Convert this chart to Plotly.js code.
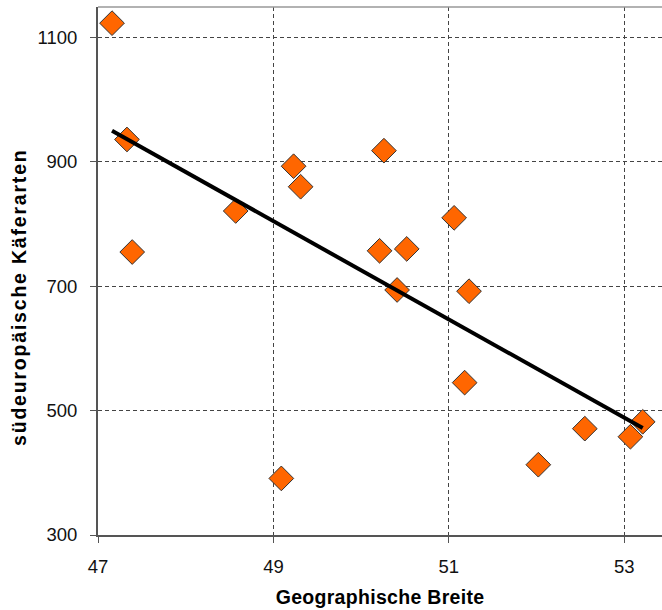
<!DOCTYPE html>
<html>
<head>
<meta charset="utf-8">
<script src="https://cdn.plot.ly/plotly-3.0.1.min.js"></script>
<style>html,body{margin:0;padding:0;background:#fff}#chart{width:662px;height:610px}
.annotation-text{letter-spacing:1.8px}
.xtitle{letter-spacing:0.3px}</style>
</head>
<body>
<div id="chart"></div>
<script>
const latitude = [47.16, 47.33, 47.39, 48.57, 49.23, 49.31, 49.09, 50.26, 50.21, 50.52, 51.06, 50.41, 51.23, 51.18, 52.02, 52.55, 53.07, 53.21];
const species  = [1123, 936, 755, 821, 893, 860, 391, 918, 757, 760, 810, 694, 692, 545, 413, 471, 458, 482];
const trendX = [47.16, 53.21];
const trendY = [950, 472];
const xTicks = [47, 49, 51, 53];
const yTicks = [300, 500, 700, 900, 1100];
const yTitle = 'südeuropäische Käferarten';
const xTitle = 'Geographische Breite';

const traces = [
  {
    x: latitude, y: species, type: 'scatter', mode: 'markers',
    marker: {symbol: 'diamond', size: 19, color: '#FF6600', line: {color: '#333333', width: 1}},
    hoverinfo: 'x+y'
  },
  {
    x: trendX, y: trendY, type: 'scatter', mode: 'lines',
    line: {color: '#000000', width: 4}, hoverinfo: 'skip'
  }
];

const layout = {
  width: 662, height: 610,
  margin: {l: 98, r: 0, t: 7, b: 75},
  paper_bgcolor: '#ffffff', plot_bgcolor: '#ffffff',
  showlegend: false,
  font: {family: 'Liberation Sans, Arial, sans-serif', color: '#000000'},
  xaxis: {
    range: [47, 53.43], tickvals: xTicks, ticktext: xTicks.map(String),
    showgrid: true, gridcolor: '#444444', griddash: '4px,3px', gridwidth: 1,
    showline: true, linecolor: '#555555', linewidth: 2,
    ticks: 'outside', ticklen: 6, tickcolor: '#555555', tickwidth: 1,
    tickfont: {size: 18.5, color: '#111111'}, ticklabelstandoff: 8,
    zeroline: false,
    title: {text: '<b>' + xTitle + '</b>', font: {size: 19.5}, standoff: 14}
  },
  yaxis: {
    range: [300, 1149], tickvals: yTicks, ticktext: yTicks.map(String),
    showgrid: true, gridcolor: '#444444', griddash: '4px,3px', gridwidth: 1,
    showline: true, linecolor: '#555555', linewidth: 2,
    ticks: 'outside', ticklen: 6, tickcolor: '#555555', tickwidth: 1,
    tickfont: {size: 18.5, color: '#111111'}, ticklabelstandoff: 9,
    zeroline: false
  },
  annotations: [
    {text: '<b>' + yTitle + '</b>', xref: 'paper', yref: 'paper', x: 0, y: 0.4508,
     xshift: -79, xanchor: 'center', yanchor: 'middle', textangle: -90,
     showarrow: false, font: {size: 19.5, color: '#000000'}}
  ],
  shapes: [
    {type: 'line', xref: 'paper', yref: 'paper', x0: 0, x1: 1, y0: 1, y1: 1,
     line: {color: '#999999', width: 1.5}}
  ]
};

Plotly.newPlot('chart', traces, layout, {displayModeBar: false, staticPlot: true});
</script>
</body>
</html>
